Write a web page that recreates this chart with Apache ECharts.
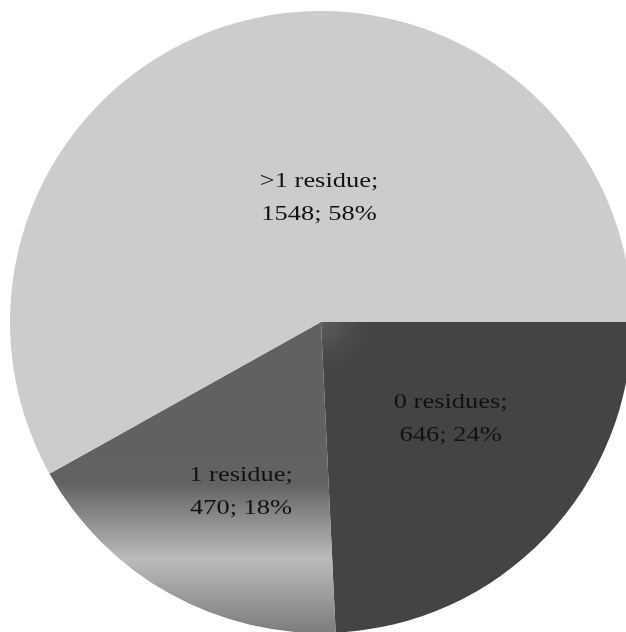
<!DOCTYPE html>
<html>
<head>
<meta charset="utf-8">
<script src="https://cdn.jsdelivr.net/npm/echarts@6/dist/echarts.min.js"></script>
<style>
html,body{margin:0;padding:0;background:#fff;}
#chart{width:626px;height:632px;}
</style>
</head>
<body>
<div id="chart"></div>
<script>
var categories = ['0 residues', '1 residue', '>1 residue'];
var values = [646, 470, 1548];

var chart = echarts.init(document.getElementById('chart'), null, {renderer: 'canvas'});

var colors = [
  {type: 'radial', x: 0, y: 0, r: 1, colorStops: [
    {offset: 0, color: '#5c5c5c'}, {offset: 0.1, color: '#4a4a4a'}, {offset: 0.16, color: '#444444'}, {offset: 1, color: '#444444'}
  ]},
  {type: 'linear', x: 0, y: 0, x2: 0, y2: 1, colorStops: [
    {offset: 0, color: '#616161'}, {offset: 0.52, color: '#626262'},
    {offset: 0.76, color: '#bbbbbb'}, {offset: 1, color: '#7c7c7c'}
  ]},
  '#cccccc'
];
var labelOffsets = [[15, -12], [-3, 31], [38, 29]];

var data = categories.map(function (c, i) {
  return {
    name: c,
    value: values[i],
    itemStyle: {color: colors[i]},
    label: {offset: labelOffsets[i]}
  };
});

chart.setOption({
  animation: false,
  series: [{
    type: 'pie',
    center: [321, 322],
    radius: [0, 311],
    startAngle: 0,
    clockwise: true,
    avoidLabelOverlap: false,
    itemStyle: {borderWidth: 0},
    emphasis: {disabled: true},
    label: {
      show: true,
      position: 'inside',
      fontFamily: '"Liberation Serif", "Times New Roman", serif',
      fontSize: 21,
      lineHeight: 33,
      color: '#111111',
      align: 'center',
      formatter: function (p) {
        return p.name + ';\n' + p.value + '; ' + Math.round(p.percent) + '%';
      }
    },
    labelLine: {show: false},
    data: data
  }]
});

// The reference text is drawn horizontally widened; stretch the label text to match.
try {
  var zr = chart.getZr();
  var list = zr.storage.getDisplayList(true);
  var done = [];
  list.forEach(function (el) {
    var t = null;
    if (el.type === 'tspan' && el.parent && el.parent.type === 'text') t = el.parent;
    else if (el.type === 'text') t = el;
    if (t && done.indexOf(t) < 0) {
      done.push(t);
      t.scaleX = 1.26;
      t.originX = 0;
      t.dirty && t.dirty();
      t.markRedraw();
    }
  });
  zr.refreshImmediately();
} catch (e) {}
</script>
</body>
</html>
